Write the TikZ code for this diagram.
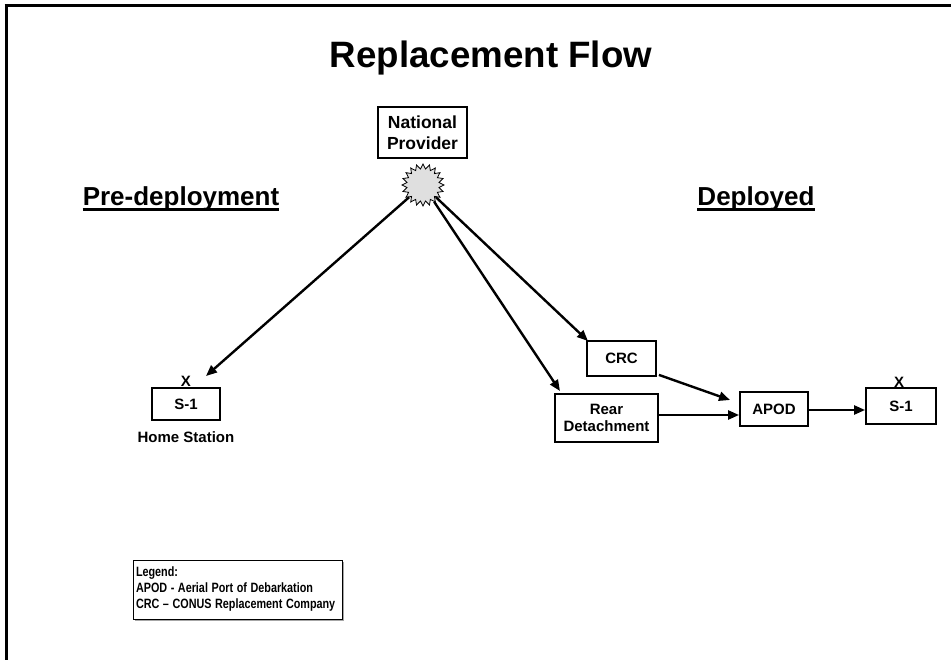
\documentclass[tikz,border=0pt]{standalone}
\usepackage{fontspec}
\setmainfont{Liberation Sans}
\usetikzlibrary{shapes.geometric,arrows.meta,shadows}
\newcommand{\legline}[1]{\scalebox{0.8}[1]{#1}}
\begin{document}
\begin{tikzpicture}[x=1pt,y=-1pt,
  box/.style={draw,line width=1.8pt,font=\fontsize{15}{17}\selectfont\bfseries,align=center,inner sep=0pt},
  flow/.style={line width=2.4pt,-{Triangle[length=11pt,width=9pt]}},
  lbl/.style={font=\fontsize{15}{17}\selectfont\bfseries,inner sep=0pt},
  head/.style={font=\fontsize{26}{30}\selectfont\bfseries,inner sep=0pt},
  uline/.style={line width=2.6pt}
]
\useasboundingbox (0,0) rectangle (951,660);
\draw[line width=3pt] (4.5,6) -- (951,6);
\draw[line width=3pt] (6,4.5) -- (6,660);
\node[font=\fontsize{36.7}{40}\selectfont\bfseries,inner sep=0pt] (title) at (491,58) {Replacement Flow};
\node[draw,line width=1.2pt,font=\fontsize{17.5}{21}\selectfont\bfseries,align=center,minimum width=89,minimum height=51,inner sep=0pt] (np) at (422.5,132.5) {National\\Provider};
\node[star,star points=20,star point ratio=1.3,draw,fill=gray!25,line width=0.8pt,minimum size=42,inner sep=0pt] (burst) at (423,185) {};
\node[head] (pre) at (181,199) {Pre-deployment};
\draw[uline] ([yshift=-4pt]pre.base west) -- ([yshift=-4pt]pre.base east);
\node[head] (dep) at (756,199) {Deployed};
\draw[uline] ([yshift=-4pt]dep.base west) -- ([yshift=-4pt]dep.base east);
% boxes
\node[box,minimum width=68,minimum height=32] (s1h) at (186,404) {S-1};
\node[lbl] (xh) at (186,381) {X};
\node[lbl] (hs) at (186,437) {Home Station};
\node[box,minimum width=69,minimum height=35] (crc) at (621.5,358.5) {CRC};
\node[box,minimum width=103,minimum height=48] (rear) at (606.5,418) {Rear\\Detachment};
\node[box,minimum width=68,minimum height=34] (apod) at (774,409) {APOD};
\node[box,minimum width=70,minimum height=36] (s1d) at (901,406) {S-1};
\node[lbl] (xd) at (899,382) {X};
% arrow tips
\coordinate (hometip) at (206,376);
\coordinate (crctip) at (588,341);
\coordinate (reartip) at (560,391);
\coordinate (apodtip) at (730,400);
\draw[flow] (burst) -- (hometip);
\draw[flow] (burst) -- (crctip);
\draw[flow] (burst) -- (reartip);
\draw[flow] ([xshift=2pt,yshift=2pt]crc.south east) -- (apodtip);
\draw[flow] (rear.east |- 0,415) -- (apod.west |- 0,415);
\draw[flow] (apod.east |- 0,410) -- (s1d.west |- 0,410);
% legend
\node[draw,line width=0.8pt,fill=white,drop shadow={shadow xshift=1.5pt,shadow yshift=-1.5pt,fill=gray!70,opacity=1},
  minimum width=209pt,inner xsep=3pt,minimum height=59pt,align=left,text width=203pt,
  font=\fontsize{13.5}{16}\selectfont\bfseries] (legend) at (237.5,589.5)
  {\legline{Legend:}\\\legline{APOD - Aerial Port of Debarkation}\\\legline{CRC – CONUS Replacement Company}};
\end{tikzpicture}
\end{document}
